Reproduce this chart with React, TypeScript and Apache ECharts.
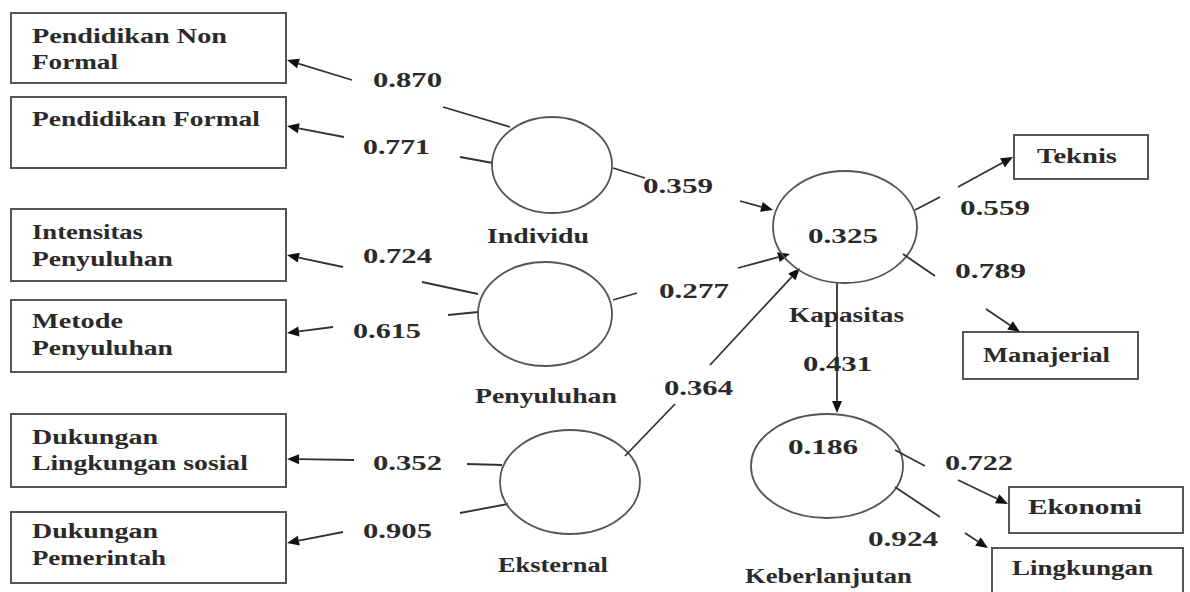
import { useEffect, useRef } from 'react';
import * as echarts from 'echarts';

// ---- Data ----
const leftIndicators = [
  ['Pendidikan Non', 'Formal'],
  ['Pendidikan Formal'],
  ['Intensitas', 'Penyuluhan'],
  ['Metode', 'Penyuluhan'],
  ['Dukungan', 'Lingkungan sosial'],
  ['Dukungan', 'Pemerintah'],
];
const leftLoadings = [0.870, 0.771, 0.724, 0.615, 0.352, 0.905];
const exogenous = ['Individu', 'Penyuluhan', 'Eksternal'];
const endogenous = ['Kapasitas', 'Keberlanjutan'];
const rSquared = [0.325, 0.186];
const pathToKapasitas = [0.359, 0.277, 0.364];
const pathKapasitasToKeberlanjutan = [0.431];
const rightIndicators = ['Teknis', 'Manajerial', 'Ekonomi', 'Lingkungan'];
const rightLoadings = [0.559, 0.789, 0.722, 0.924];

// ---- Layout ----
const FS = 22;
const WEIGHT = 'bold';
const FAMILY = '"Liberation Serif", "Times New Roman", serif';
const TEXT_FILL = '#2a2a2a';
const LINE = '#333';
const BORDER = '#555';

const leftBoxes = [
  [11, 13, 275, 70],
  [11, 97, 275, 71],
  [11, 209, 275, 72],
  [11, 300, 275, 72],
  [11, 414, 275, 73],
  [11, 512, 275, 71],
];
// [x1, x2, baseline] per line
const leftBoxText = [
  [[32, 227, 43], [32, 118, 69]],
  [[32, 260, 126]],
  [[32, 143, 239], [32, 173, 266]],
  [[32, 123, 328], [32, 173, 355]],
  [[32, 158, 444], [32, 248, 470]],
  [[32, 158, 538], [32, 166, 565]],
];
const leftLoadPos = [
  [373, 442, 87], [363, 430, 154], [363, 432, 263],
  [353, 421, 338], [373, 442, 470], [363, 432, 538],
];
const leftArrowSeg = [
  [352, 80, 287, 60], [344, 137, 287, 126], [343, 267, 287, 255],
  [333, 327, 287, 333], [354, 460, 287, 459], [343, 532, 287, 543],
];
const leftLineSeg = [
  [443, 107, 510, 127], [460, 157, 493, 163], [422, 282, 478, 294],
  [448, 315, 478, 312], [467, 464, 502, 465], [460, 513, 508, 504],
];

const exoEllipse = [[552, 165, 60, 48], [545, 314, 67, 52], [570, 482, 70, 52]];
const exoLabelPos = [[487, 589, 243], [475, 617, 403], [498, 608, 572]];
const endoEllipse = [[845, 227, 72, 56], [827, 466, 76, 52]];
const endoLabelPos = [[789, 904, 322], [745, 912, 583]];
const r2Pos = [[808, 878, 243], [788, 858, 454]];

const pathLineSeg = [[613, 168, 645, 178], [613, 300, 637, 293], [625, 456, 675, 404]];
const pathArrowSeg = [[740, 201, 773, 210], [738, 268, 790, 254], [710, 365, 800, 268]];
const pathLabelPos = [[643, 713, 193], [659, 729, 298], [664, 733, 395]];
const kkArrow = [837, 283, 837, 413];
const kkLabelPos = [803, 872, 371];

const rightBoxes = [
  [1014, 135, 134, 44],
  [963, 332, 175, 47],
  [1009, 487, 174, 46],
  [992, 548, 191, 52],
];
const rightBoxText = [[1037, 1117, 163], [983, 1110, 362], [1028, 1142, 514], [1012, 1153, 575]];
const rightLineSeg = [[915, 210, 940, 197], [903, 254, 935, 276], [895, 450, 925, 466], [895, 487, 940, 517]];
const rightArrowSeg = [[958, 187, 1013, 157], [986, 309, 1020, 332], [958, 480, 1008, 504], [965, 533, 988, 548]];
const rightLoadPos = [[960, 1030, 215], [955, 1026, 278], [945, 1013, 470], [868, 938, 546]];

// ---- Helpers ----
let ctx: CanvasRenderingContext2D | null = null;
function measure(t: string) {
  if (!ctx) ctx = document.createElement('canvas').getContext('2d');
  if (!ctx) return t.length * FS * 0.5;
  ctx.font = `${WEIGHT} ${FS}px ${FAMILY}`;
  return ctx.measureText(t).width || 1;
}

function txt(t: string, pos: number[]) {
  const [x1, x2, base] = pos;
  const w = measure(t);
  return {
    type: 'text',
    x: x1,
    y: base - 0.3375 * FS,
    scaleX: (x2 - x1) / w,
    silent: true,
    z: 10,
    style: {
      text: t,
      x: 0,
      y: 0,
      fill: TEXT_FILL,
      fontSize: FS,
      fontFamily: FAMILY,
      fontWeight: WEIGHT,
      align: 'left',
      verticalAlign: 'middle',
      textAlign: 'left',
      textVerticalAlign: 'middle',
    },
  };
}

function seg(s: number[]) {
  return {
    type: 'line',
    silent: true,
    shape: { x1: s[0], y1: s[1], x2: s[2], y2: s[3] },
    style: { stroke: LINE, lineWidth: 1.8 },
  };
}

function arrow(s: number[]) {
  const [x1, y1, x2, y2] = s;
  const dx = x2 - x1, dy = y2 - y1;
  const L = Math.hypot(dx, dy);
  const ux = dx / L, uy = dy / L;
  const hl = 12, hw = 5;
  const bx = x2 - ux * hl, by = y2 - uy * hl;
  return [
    {
      type: 'line',
      silent: true,
      shape: { x1, y1, x2: bx, y2: by },
      style: { stroke: LINE, lineWidth: 1.8 },
    },
    {
      type: 'polygon',
      silent: true,
      shape: { points: [[x2, y2], [bx - uy * hw, by + ux * hw], [bx + uy * hw, by - ux * hw]] },
      style: { fill: '#111' },
    },
  ];
}

function box(b: number[]) {
  return {
    type: 'rect',
    silent: true,
    shape: { x: b[0], y: b[1], width: b[2], height: b[3] },
    style: { fill: '#fff', stroke: BORDER, lineWidth: 2 },
  };
}

function ell(e: number[]) {
  return {
    type: 'ellipse',
    silent: true,
    shape: { cx: e[0], cy: e[1], rx: e[2], ry: e[3] },
    style: { fill: 'none', stroke: BORDER, lineWidth: 1.8 },
  };
}

function buildElements() {
  const els: any[] = [];
  leftIndicators.forEach((lines, i) => {
    els.push(box(leftBoxes[i]));
    lines.forEach((l, j) => els.push(txt(l, leftBoxText[i][j])));
    els.push(txt(leftLoadings[i].toFixed(3), leftLoadPos[i]));
    els.push(...arrow(leftArrowSeg[i]));
    els.push(seg(leftLineSeg[i]));
  });
  exogenous.forEach((name, i) => {
    els.push(ell(exoEllipse[i]));
    els.push(txt(name, exoLabelPos[i]));
    els.push(seg(pathLineSeg[i]));
    els.push(...arrow(pathArrowSeg[i]));
    els.push(txt(pathToKapasitas[i].toFixed(3), pathLabelPos[i]));
  });
  endogenous.forEach((name, i) => {
    els.push(ell(endoEllipse[i]));
    els.push(txt(name, endoLabelPos[i]));
    els.push(txt(rSquared[i].toFixed(3), r2Pos[i]));
  });
  els.push(...arrow(kkArrow));
  els.push(txt(pathKapasitasToKeberlanjutan[0].toFixed(3), kkLabelPos));
  rightIndicators.forEach((name, i) => {
    els.push(box(rightBoxes[i]));
    els.push(txt(name, rightBoxText[i]));
    els.push(seg(rightLineSeg[i]));
    els.push(...arrow(rightArrowSeg[i]));
    els.push(txt(rightLoadings[i].toFixed(3), rightLoadPos[i]));
  });
  return els;
}

export default function App() {
  const ref = useRef<HTMLDivElement>(null);
  useEffect(() => {
    if (!ref.current) return;
    const chart = echarts.init(ref.current, undefined, { renderer: 'svg' });
    chart.setOption({
      animation: false,
      backgroundColor: '#fff',
      graphic: { elements: buildElements() },
    });
    return () => chart.dispose();
  }, []);
  return (
    <div
      ref={ref}
      style={{ position: 'fixed', left: 0, top: 0, width: 1190, height: 592, background: '#fff' }}
    />
  );
}
